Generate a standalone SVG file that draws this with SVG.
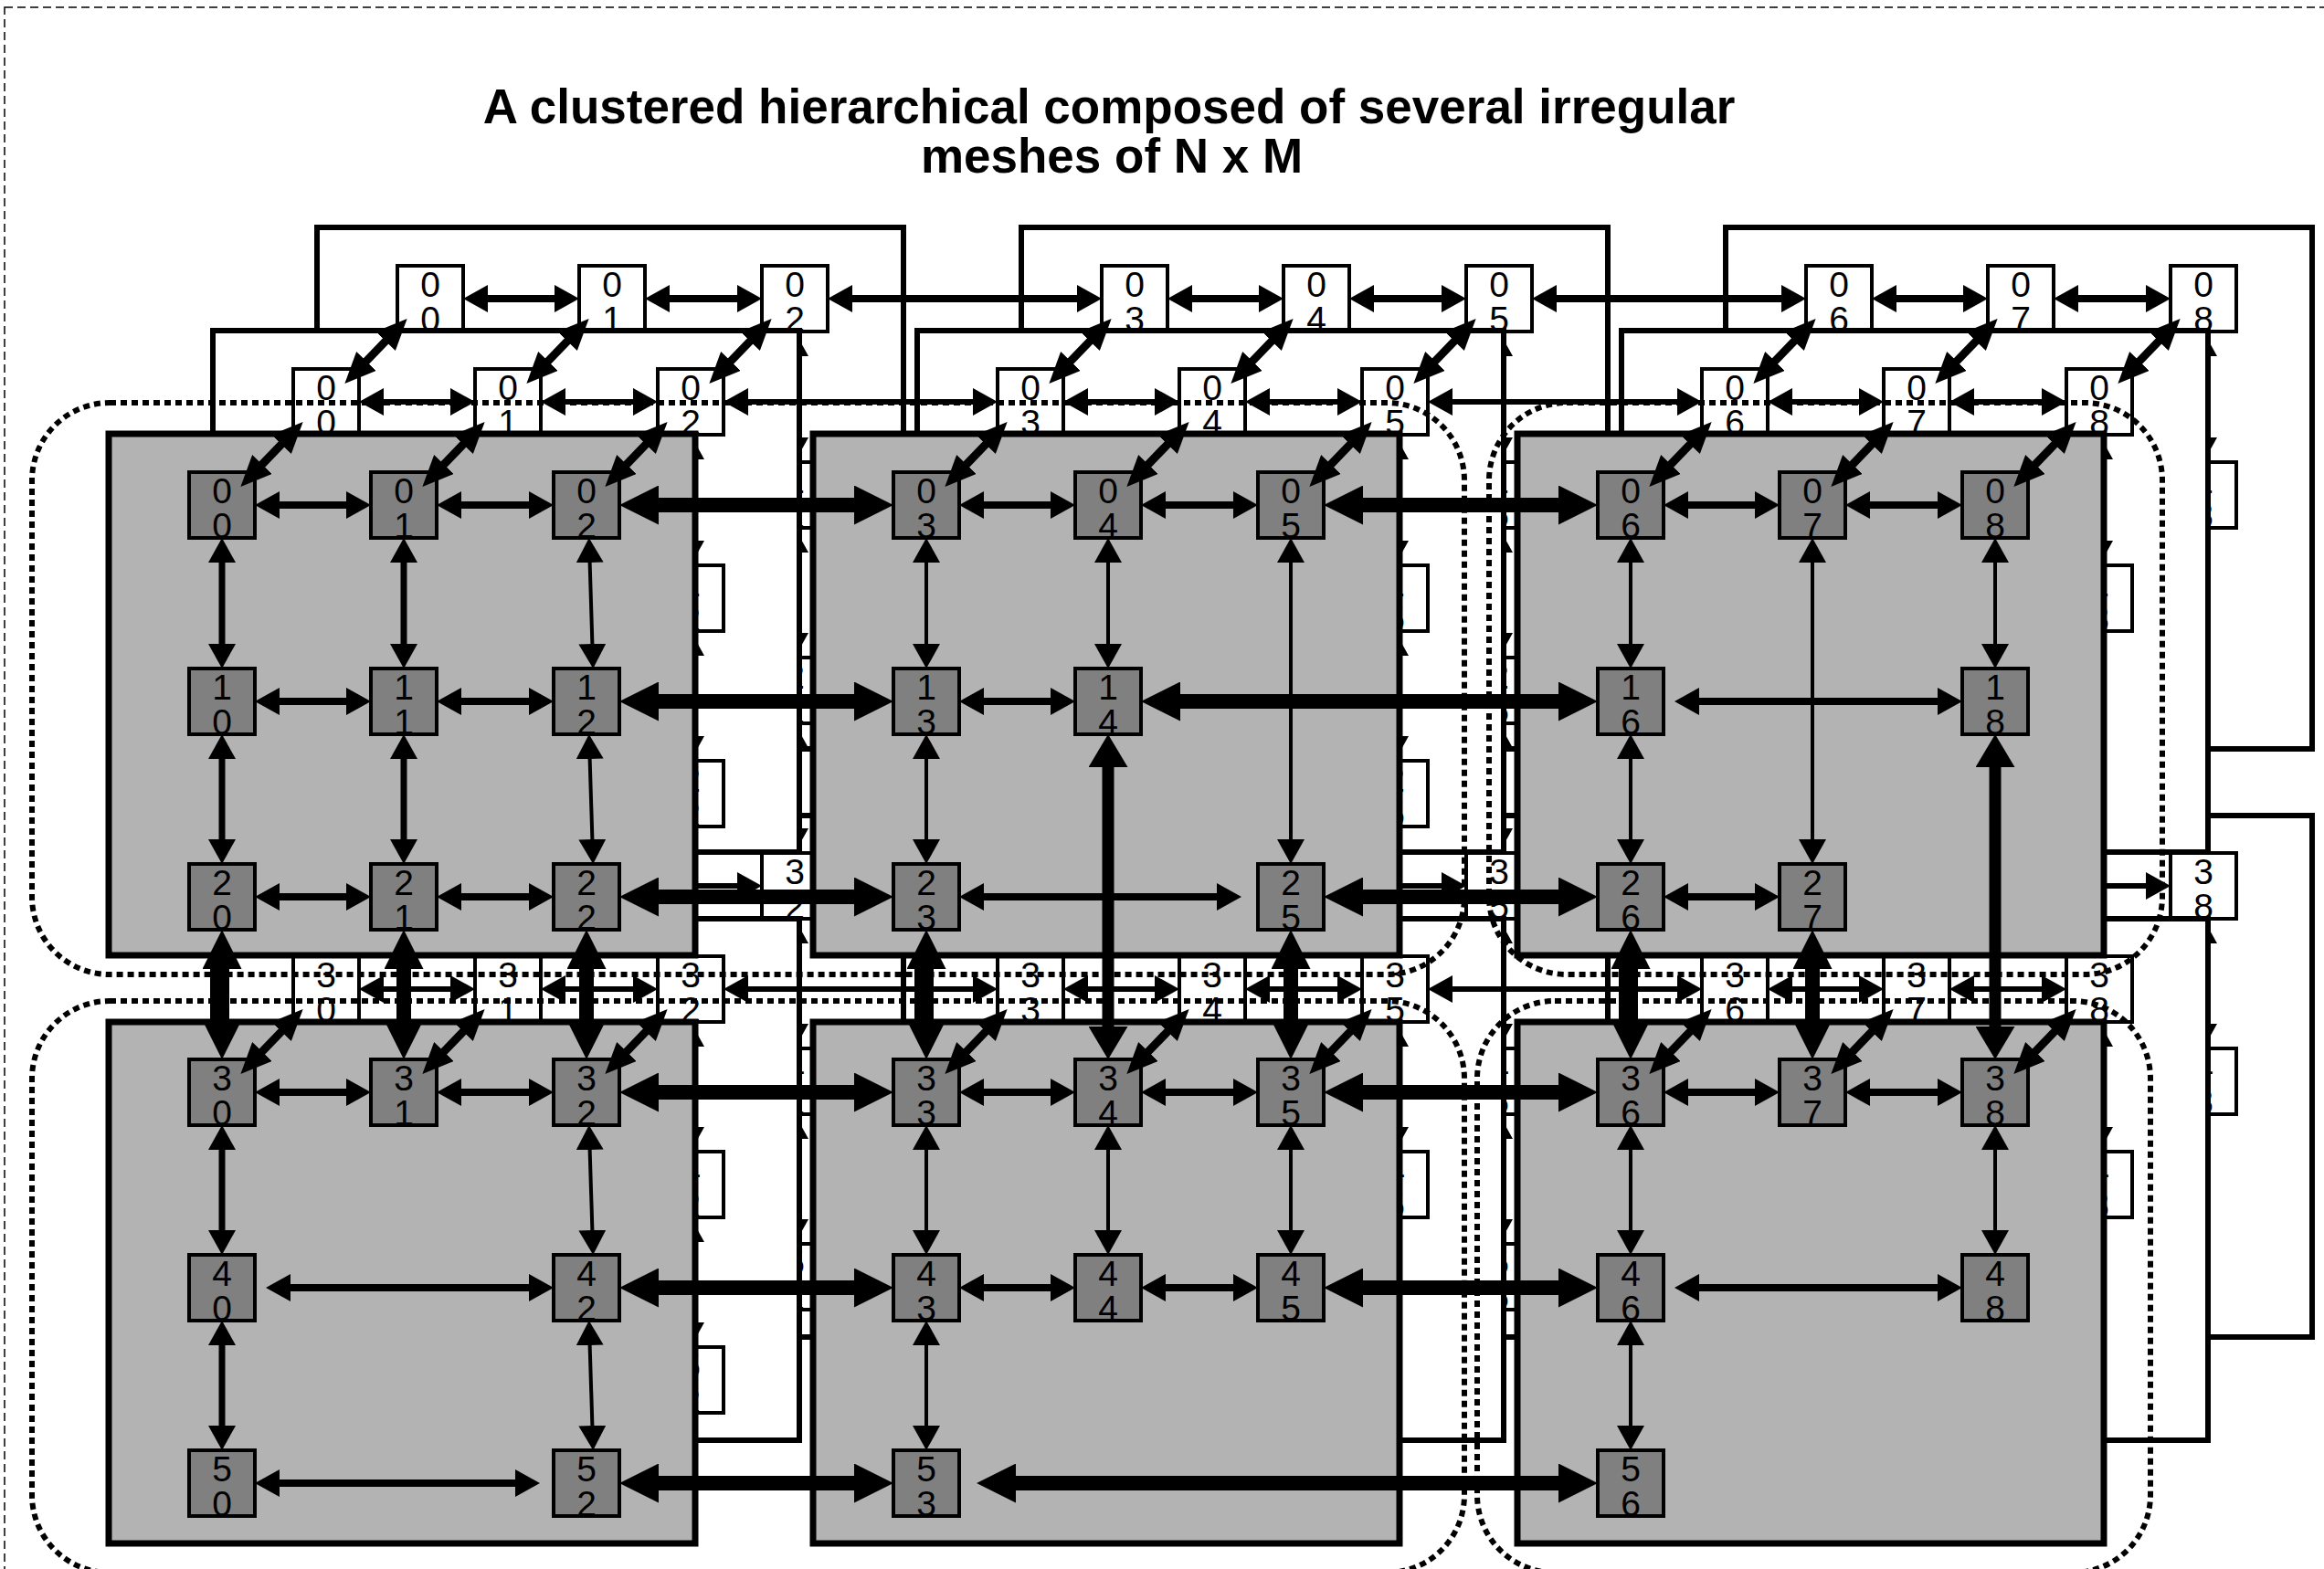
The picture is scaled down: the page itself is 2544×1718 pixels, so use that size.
<svg xmlns="http://www.w3.org/2000/svg" xmlns:xlink="http://www.w3.org/1999/xlink" width="2544" height="1718" viewBox="0 0 2544 1718">
<defs>
<style>
.title{font-family:"Liberation Sans",Arial,sans-serif;font-weight:bold;font-size:53px;text-anchor:middle;fill:#000}
.t{font-family:"Liberation Sans",Arial,sans-serif;font-size:39px;text-anchor:middle;fill:#000}
.fb{fill:#b3b3b3;stroke:#000;stroke-width:7}
.wb{fill:#fff;stroke:#000;stroke-width:6}
.fn{fill:#808080;stroke:#000;stroke-width:4}
.wn{fill:#fff;stroke:#000;stroke-width:4}
.dot{fill:none;stroke:#000;stroke-width:6;stroke-dasharray:7 5}
.h{stroke:#000;stroke-width:8;marker-start:url(#a1);marker-end:url(#a1)}
.hm{stroke:#000;stroke-width:6;marker-start:url(#a1);marker-end:url(#a1)}
.v{stroke:#000;stroke-width:4;marker-start:url(#a1);marker-end:url(#a1)}
.vt{stroke:#000;stroke-width:7;marker-start:url(#a1);marker-end:url(#a1)}
.H{stroke:#000;stroke-width:16;marker-start:url(#a2);marker-end:url(#a2)}
.VL{stroke:#000;stroke-width:13;marker-start:url(#a4);marker-end:url(#a4)}
.dg{stroke:#000;stroke-width:9;marker-start:url(#a3);marker-end:url(#a3)}
</style>
<marker id="a1" markerUnits="userSpaceOnUse" markerWidth="27" markerHeight="30" viewBox="0 0 27 30" refX="19" refY="15" orient="auto-start-reverse"><path d="M0,0L27,15L0,30z" fill="#000"/></marker>
<marker id="a2" markerUnits="userSpaceOnUse" markerWidth="43" markerHeight="43" viewBox="0 0 43 43" refX="27" refY="21.5" orient="auto-start-reverse"><path d="M0,0L43,21.5L0,43z" fill="#000"/></marker>
<marker id="a3" markerUnits="userSpaceOnUse" markerWidth="34" markerHeight="30" viewBox="0 0 34 30" refX="23" refY="15" orient="auto-start-reverse"><path d="M0,0L34,15L0,30z" fill="#000"/></marker>
<marker id="a4" markerUnits="userSpaceOnUse" markerWidth="36" markerHeight="43" viewBox="0 0 36 43" refX="22" refY="21.5" orient="auto-start-reverse"><path d="M0,0L36,21.5L0,43z" fill="#000"/></marker>
<line id="dg" class="dg" x1="64" y1="8" x2="117" y2="-47"/>
</defs>
<rect x="0" y="0" width="2544" height="1718" fill="#fff"/>
<rect x="5" y="8" width="2600" height="1800" fill="none" stroke="#000" stroke-width="1.5" stroke-dasharray="9 5"/>
<g id="title">
<text class="title" x="1214" y="135">A clustered hierarchical composed of several irregular</text>
<text class="title" x="1217" y="189">meshes of N x M</text>
</g>

<!-- BACK PLANE -->
<g id="back-clusters">
<rect class="wb" x="347" y="249" width="642" height="571"/>
<rect class="wb" x="1118" y="249" width="642" height="571"/>
<rect class="wb" x="1889" y="249" width="642" height="571"/>
<rect class="wb" x="347" y="893" width="642" height="571"/>
<rect class="wb" x="1118" y="893" width="642" height="571"/>
<rect class="wb" x="1889" y="893" width="642" height="571"/>
</g>
<g id="back-connectors">
<line class="h" x1="515" y1="327" x2="626" y2="327"/>
<line class="h" x1="714" y1="327" x2="826" y2="327"/>
<line class="h" x1="914" y1="327" x2="1198" y2="327"/>
<line class="h" x1="1286" y1="327" x2="1397" y2="327"/>
<line class="h" x1="1485" y1="327" x2="1597" y2="327"/>
<line class="h" x1="1685" y1="327" x2="1969" y2="327"/>
<line class="h" x1="2057" y1="327" x2="2168" y2="327"/>
<line class="h" x1="2256" y1="327" x2="2368" y2="327"/>
<line class="hm" x1="515" y1="970" x2="626" y2="970"/>
<line class="hm" x1="714" y1="970" x2="826" y2="970"/>
<line class="hm" x1="914" y1="970" x2="1198" y2="970"/>
<line class="hm" x1="1286" y1="970" x2="1397" y2="970"/>
<line class="hm" x1="1485" y1="970" x2="1597" y2="970"/>
<line class="hm" x1="1685" y1="970" x2="1969" y2="970"/>
<line class="hm" x1="2057" y1="970" x2="2168" y2="970"/>
<line class="hm" x1="2256" y1="970" x2="2368" y2="970"/>
<line class="v" x1="870" y1="371" x2="870" y2="498"/>
<line class="v" x1="870" y1="586" x2="870" y2="712"/>
<line class="v" x1="870" y1="800" x2="870" y2="926"/>
<line class="v" x1="870" y1="1014" x2="870" y2="1140"/>
<line class="v" x1="870" y1="1228" x2="870" y2="1354"/>
<line class="v" x1="1641" y1="371" x2="1641" y2="498"/>
<line class="v" x1="1641" y1="586" x2="1641" y2="712"/>
<line class="v" x1="1641" y1="800" x2="1641" y2="926"/>
<line class="v" x1="1641" y1="1014" x2="1641" y2="1140"/>
<line class="v" x1="1641" y1="1228" x2="1641" y2="1354"/>
<line class="v" x1="2412" y1="371" x2="2412" y2="498"/>
<line class="v" x1="2412" y1="1014" x2="2412" y2="1140"/>
</g>
<g id="back-nodes">
<g id="b00"><rect class="wn" x="435" y="291" width="72" height="72"/><text class="t" x="471" y="325">0<tspan x="471" y="363">0</tspan></text></g>
<g id="b01"><rect class="wn" x="634" y="291" width="72" height="72"/><text class="t" x="670" y="325">0<tspan x="670" y="363">1</tspan></text></g>
<g id="b02"><rect class="wn" x="834" y="291" width="72" height="72"/><text class="t" x="870" y="325">0<tspan x="870" y="363">2</tspan></text></g>
<g id="b03"><rect class="wn" x="1206" y="291" width="72" height="72"/><text class="t" x="1242" y="325">0<tspan x="1242" y="363">3</tspan></text></g>
<g id="b04"><rect class="wn" x="1405" y="291" width="72" height="72"/><text class="t" x="1441" y="325">0<tspan x="1441" y="363">4</tspan></text></g>
<g id="b05"><rect class="wn" x="1605" y="291" width="72" height="72"/><text class="t" x="1641" y="325">0<tspan x="1641" y="363">5</tspan></text></g>
<g id="b06"><rect class="wn" x="1977" y="291" width="72" height="72"/><text class="t" x="2013" y="325">0<tspan x="2013" y="363">6</tspan></text></g>
<g id="b07"><rect class="wn" x="2176" y="291" width="72" height="72"/><text class="t" x="2212" y="325">0<tspan x="2212" y="363">7</tspan></text></g>
<g id="b08"><rect class="wn" x="2376" y="291" width="72" height="72"/><text class="t" x="2412" y="325">0<tspan x="2412" y="363">8</tspan></text></g>
<g id="b12"><rect class="wn" x="834" y="506" width="72" height="72"/><text class="t" x="870" y="540">1<tspan x="870" y="578">2</tspan></text></g>
<g id="b22"><rect class="wn" x="834" y="720" width="72" height="72"/><text class="t" x="870" y="754">2<tspan x="870" y="792">2</tspan></text></g>
<g id="b42"><rect class="wn" x="834" y="1148" width="72" height="72"/><text class="t" x="870" y="1182">4<tspan x="870" y="1220">2</tspan></text></g>
<g id="b52"><rect class="wn" x="834" y="1362" width="72" height="72"/><text class="t" x="870" y="1396">5<tspan x="870" y="1434">2</tspan></text></g>
<g id="b15"><rect class="wn" x="1605" y="506" width="72" height="72"/><text class="t" x="1641" y="540">1<tspan x="1641" y="578">5</tspan></text></g>
<g id="b25"><rect class="wn" x="1605" y="720" width="72" height="72"/><text class="t" x="1641" y="754">2<tspan x="1641" y="792">5</tspan></text></g>
<g id="b45"><rect class="wn" x="1605" y="1148" width="72" height="72"/><text class="t" x="1641" y="1182">4<tspan x="1641" y="1220">5</tspan></text></g>
<g id="b55"><rect class="wn" x="1605" y="1362" width="72" height="72"/><text class="t" x="1641" y="1396">5<tspan x="1641" y="1434">5</tspan></text></g>
<g id="b18"><rect class="wn" x="2376" y="506" width="72" height="72"/><text class="t" x="2412" y="540">1<tspan x="2412" y="578">8</tspan></text></g>
<g id="b48"><rect class="wn" x="2376" y="1148" width="72" height="72"/><text class="t" x="2412" y="1182">4<tspan x="2412" y="1220">8</tspan></text></g>
<g id="b30"><rect class="wn" x="435" y="934" width="72" height="72"/><text class="t" x="471" y="968">3<tspan x="471" y="1006">0</tspan></text></g>
<g id="b31"><rect class="wn" x="634" y="934" width="72" height="72"/><text class="t" x="670" y="968">3<tspan x="670" y="1006">1</tspan></text></g>
<g id="b32"><rect class="wn" x="834" y="934" width="72" height="72"/><text class="t" x="870" y="968">3<tspan x="870" y="1006">2</tspan></text></g>
<g id="b33"><rect class="wn" x="1206" y="934" width="72" height="72"/><text class="t" x="1242" y="968">3<tspan x="1242" y="1006">3</tspan></text></g>
<g id="b34"><rect class="wn" x="1405" y="934" width="72" height="72"/><text class="t" x="1441" y="968">3<tspan x="1441" y="1006">4</tspan></text></g>
<g id="b35"><rect class="wn" x="1605" y="934" width="72" height="72"/><text class="t" x="1641" y="968">3<tspan x="1641" y="1006">5</tspan></text></g>
<g id="b36"><rect class="wn" x="1977" y="934" width="72" height="72"/><text class="t" x="2013" y="968">3<tspan x="2013" y="1006">6</tspan></text></g>
<g id="b37"><rect class="wn" x="2176" y="934" width="72" height="72"/><text class="t" x="2212" y="968">3<tspan x="2212" y="1006">7</tspan></text></g>
<g id="b38"><rect class="wn" x="2376" y="934" width="72" height="72"/><text class="t" x="2412" y="968">3<tspan x="2412" y="1006">8</tspan></text></g>
</g>

<!-- MIDDLE PLANE -->
<g id="middle-clusters">
<rect class="wb" x="233" y="362" width="642" height="571"/>
<rect class="wb" x="1004" y="362" width="642" height="571"/>
<rect class="wb" x="1775" y="362" width="642" height="571"/>
<rect class="wb" x="233" y="1006" width="642" height="571"/>
<rect class="wb" x="1004" y="1006" width="642" height="571"/>
<rect class="wb" x="1775" y="1006" width="642" height="571"/>
</g>
<g id="middle-connectors">
<line class="hm" x1="401" y1="440" x2="512" y2="440"/>
<line class="hm" x1="600" y1="440" x2="712" y2="440"/>
<line class="hm" x1="800" y1="440" x2="1084" y2="440"/>
<line class="hm" x1="1172" y1="440" x2="1283" y2="440"/>
<line class="hm" x1="1371" y1="440" x2="1483" y2="440"/>
<line class="hm" x1="1571" y1="440" x2="1855" y2="440"/>
<line class="hm" x1="1943" y1="440" x2="2054" y2="440"/>
<line class="hm" x1="2142" y1="440" x2="2254" y2="440"/>
<line class="hm" x1="401" y1="1083" x2="512" y2="1083"/>
<line class="hm" x1="600" y1="1083" x2="712" y2="1083"/>
<line class="hm" x1="800" y1="1083" x2="1084" y2="1083"/>
<line class="hm" x1="1172" y1="1083" x2="1283" y2="1083"/>
<line class="hm" x1="1371" y1="1083" x2="1483" y2="1083"/>
<line class="hm" x1="1571" y1="1083" x2="1855" y2="1083"/>
<line class="hm" x1="1943" y1="1083" x2="2054" y2="1083"/>
<line class="hm" x1="2142" y1="1083" x2="2254" y2="1083"/>
<line class="v" x1="756" y1="484" x2="756" y2="611"/>
<line class="v" x1="756" y1="699" x2="756" y2="825"/>
<line class="v" x1="756" y1="1127" x2="756" y2="1253"/>
<line class="v" x1="756" y1="1341" x2="756" y2="1467"/>
<line class="v" x1="1527" y1="484" x2="1527" y2="611"/>
<line class="v" x1="1527" y1="699" x2="1527" y2="825"/>
<line class="v" x1="1527" y1="1127" x2="1527" y2="1253"/>
<line class="v" x1="2298" y1="484" x2="2298" y2="611"/>
<line class="v" x1="2298" y1="1127" x2="2298" y2="1253"/>
</g>
<g id="middle-nodes">
<g id="m00"><rect class="wn" x="321" y="404" width="72" height="72"/><text class="t" x="357" y="438">0<tspan x="357" y="476">0</tspan></text></g>
<g id="m01"><rect class="wn" x="520" y="404" width="72" height="72"/><text class="t" x="556" y="438">0<tspan x="556" y="476">1</tspan></text></g>
<g id="m02"><rect class="wn" x="720" y="404" width="72" height="72"/><text class="t" x="756" y="438">0<tspan x="756" y="476">2</tspan></text></g>
<g id="m03"><rect class="wn" x="1092" y="404" width="72" height="72"/><text class="t" x="1128" y="438">0<tspan x="1128" y="476">3</tspan></text></g>
<g id="m04"><rect class="wn" x="1291" y="404" width="72" height="72"/><text class="t" x="1327" y="438">0<tspan x="1327" y="476">4</tspan></text></g>
<g id="m05"><rect class="wn" x="1491" y="404" width="72" height="72"/><text class="t" x="1527" y="438">0<tspan x="1527" y="476">5</tspan></text></g>
<g id="m06"><rect class="wn" x="1863" y="404" width="72" height="72"/><text class="t" x="1899" y="438">0<tspan x="1899" y="476">6</tspan></text></g>
<g id="m07"><rect class="wn" x="2062" y="404" width="72" height="72"/><text class="t" x="2098" y="438">0<tspan x="2098" y="476">7</tspan></text></g>
<g id="m08"><rect class="wn" x="2262" y="404" width="72" height="72"/><text class="t" x="2298" y="438">0<tspan x="2298" y="476">8</tspan></text></g>
<g id="m12"><rect class="wn" x="720" y="619" width="72" height="72"/><text class="t" x="756" y="653">1<tspan x="756" y="691">2</tspan></text></g>
<g id="m22"><rect class="wn" x="720" y="833" width="72" height="72"/><text class="t" x="756" y="867">2<tspan x="756" y="905">2</tspan></text></g>
<g id="m42"><rect class="wn" x="720" y="1261" width="72" height="72"/><text class="t" x="756" y="1295">4<tspan x="756" y="1333">2</tspan></text></g>
<g id="m52"><rect class="wn" x="720" y="1475" width="72" height="72"/><text class="t" x="756" y="1509">5<tspan x="756" y="1547">2</tspan></text></g>
<g id="m15"><rect class="wn" x="1491" y="619" width="72" height="72"/><text class="t" x="1527" y="653">1<tspan x="1527" y="691">5</tspan></text></g>
<g id="m25"><rect class="wn" x="1491" y="833" width="72" height="72"/><text class="t" x="1527" y="867">2<tspan x="1527" y="905">5</tspan></text></g>
<g id="m45"><rect class="wn" x="1491" y="1261" width="72" height="72"/><text class="t" x="1527" y="1295">4<tspan x="1527" y="1333">5</tspan></text></g>
<g id="m18"><rect class="wn" x="2262" y="619" width="72" height="72"/><text class="t" x="2298" y="653">1<tspan x="2298" y="691">8</tspan></text></g>
<g id="m48"><rect class="wn" x="2262" y="1261" width="72" height="72"/><text class="t" x="2298" y="1295">4<tspan x="2298" y="1333">8</tspan></text></g>
<g id="m30"><rect class="wn" x="321" y="1047" width="72" height="72"/><text class="t" x="357" y="1081">3<tspan x="357" y="1119">0</tspan></text></g>
<g id="m31"><rect class="wn" x="520" y="1047" width="72" height="72"/><text class="t" x="556" y="1081">3<tspan x="556" y="1119">1</tspan></text></g>
<g id="m32"><rect class="wn" x="720" y="1047" width="72" height="72"/><text class="t" x="756" y="1081">3<tspan x="756" y="1119">2</tspan></text></g>
<g id="m33"><rect class="wn" x="1092" y="1047" width="72" height="72"/><text class="t" x="1128" y="1081">3<tspan x="1128" y="1119">3</tspan></text></g>
<g id="m34"><rect class="wn" x="1291" y="1047" width="72" height="72"/><text class="t" x="1327" y="1081">3<tspan x="1327" y="1119">4</tspan></text></g>
<g id="m35"><rect class="wn" x="1491" y="1047" width="72" height="72"/><text class="t" x="1527" y="1081">3<tspan x="1527" y="1119">5</tspan></text></g>
<g id="m36"><rect class="wn" x="1863" y="1047" width="72" height="72"/><text class="t" x="1899" y="1081">3<tspan x="1899" y="1119">6</tspan></text></g>
<g id="m37"><rect class="wn" x="2062" y="1047" width="72" height="72"/><text class="t" x="2098" y="1081">3<tspan x="2098" y="1119">7</tspan></text></g>
<g id="m38"><rect class="wn" x="2262" y="1047" width="72" height="72"/><text class="t" x="2298" y="1081">3<tspan x="2298" y="1119">8</tspan></text></g>
</g>
<g id="middle-to-back-links">
<use xlink:href="#dg" href="#dg" x="321" y="404"/>
<use xlink:href="#dg" href="#dg" x="520" y="404"/>
<use xlink:href="#dg" href="#dg" x="720" y="404"/>
<use xlink:href="#dg" href="#dg" x="1092" y="404"/>
<use xlink:href="#dg" href="#dg" x="1291" y="404"/>
<use xlink:href="#dg" href="#dg" x="1491" y="404"/>
<use xlink:href="#dg" href="#dg" x="1863" y="404"/>
<use xlink:href="#dg" href="#dg" x="2062" y="404"/>
<use xlink:href="#dg" href="#dg" x="2262" y="404"/>
</g>

<!-- DOTTED CLUSTER GROUPS -->
<g id="dotted-groups">
<rect class="dot" x="35" y="441" width="1568" height="626" rx="85" ry="85"/>
<rect class="dot" x="1630" y="441" width="737" height="626" rx="85" ry="85"/>
<rect class="dot" x="35" y="1096" width="1568" height="626" rx="85" ry="85"/>
<rect class="dot" x="1617" y="1096" width="737" height="626" rx="85" ry="85"/>
</g>

<!-- FRONT PLANE -->
<g id="front-clusters">
<rect class="fb" x="119" y="475" width="642" height="571"/>
<rect class="fb" x="890" y="475" width="642" height="571"/>
<rect class="fb" x="1661" y="475" width="642" height="571"/>
<rect class="fb" x="119" y="1119" width="642" height="571"/>
<rect class="fb" x="890" y="1119" width="642" height="571"/>
<rect class="fb" x="1661" y="1119" width="642" height="571"/>
</g>
<g id="front-connectors">
<line class="h" x1="287" y1="553" x2="398" y2="553"/>
<line class="h" x1="486" y1="553" x2="598" y2="553"/>
<line class="h" x1="1058" y1="553" x2="1169" y2="553"/>
<line class="h" x1="1257" y1="553" x2="1369" y2="553"/>
<line class="h" x1="1829" y1="553" x2="1940" y2="553"/>
<line class="h" x1="2028" y1="553" x2="2140" y2="553"/>
<line class="h" x1="287" y1="768" x2="398" y2="768"/>
<line class="h" x1="486" y1="768" x2="598" y2="768"/>
<line class="h" x1="1058" y1="768" x2="1169" y2="768"/>
<line class="h" x1="1841" y1="768" x2="2140" y2="768"/>
<line class="h" x1="287" y1="982" x2="398" y2="982"/>
<line class="h" x1="486" y1="982" x2="598" y2="982"/>
<line class="h" x1="1058" y1="982" x2="1351" y2="982"/>
<line class="h" x1="1829" y1="982" x2="1940" y2="982"/>
<line class="h" x1="287" y1="1196" x2="398" y2="1196"/>
<line class="h" x1="486" y1="1196" x2="598" y2="1196"/>
<line class="h" x1="1058" y1="1196" x2="1169" y2="1196"/>
<line class="h" x1="1257" y1="1196" x2="1369" y2="1196"/>
<line class="h" x1="1829" y1="1196" x2="1940" y2="1196"/>
<line class="h" x1="2028" y1="1196" x2="2140" y2="1196"/>
<line class="h" x1="299" y1="1410" x2="598" y2="1410"/>
<line class="h" x1="1058" y1="1410" x2="1169" y2="1410"/>
<line class="h" x1="1257" y1="1410" x2="1369" y2="1410"/>
<line class="h" x1="1841" y1="1410" x2="2140" y2="1410"/>
<line class="h" x1="287" y1="1624" x2="583" y2="1624"/>
<line class="H" x1="694" y1="553" x2="962" y2="553"/>
<line class="H" x1="694" y1="768" x2="962" y2="768"/>
<line class="H" x1="694" y1="982" x2="962" y2="982"/>
<line class="H" x1="694" y1="1196" x2="962" y2="1196"/>
<line class="H" x1="694" y1="1410" x2="962" y2="1410"/>
<line class="H" x1="694" y1="1624" x2="962" y2="1624"/>
<line class="H" x1="1465" y1="553" x2="1733" y2="553"/>
<line class="H" x1="1265" y1="768" x2="1733" y2="768"/>
<line class="H" x1="1465" y1="982" x2="1733" y2="982"/>
<line class="H" x1="1465" y1="1196" x2="1733" y2="1196"/>
<line class="H" x1="1465" y1="1410" x2="1733" y2="1410"/>
<line class="H" x1="1085" y1="1624" x2="1733" y2="1624"/>
<line class="vt" x1="243" y1="597" x2="243" y2="724"/>
<line class="vt" x1="243" y1="812" x2="243" y2="938"/>
<line class="vt" x1="243" y1="1240" x2="243" y2="1366"/>
<line class="vt" x1="243" y1="1454" x2="243" y2="1580"/>
<line class="vt" x1="442" y1="597" x2="442" y2="724"/>
<line class="vt" x1="442" y1="812" x2="442" y2="938"/>
<line class="v" x1="645" y1="597" x2="649" y2="724"/>
<line class="v" x1="645" y1="812" x2="649" y2="938"/>
<line class="v" x1="645" y1="1240" x2="649" y2="1366"/>
<line class="v" x1="645" y1="1454" x2="649" y2="1580"/>
<line class="v" x1="1014" y1="597" x2="1014" y2="724"/>
<line class="v" x1="1014" y1="812" x2="1014" y2="938"/>
<line class="v" x1="1014" y1="1240" x2="1014" y2="1366"/>
<line class="v" x1="1014" y1="1454" x2="1014" y2="1580"/>
<line class="v" x1="1213" y1="597" x2="1213" y2="724"/>
<line class="v" x1="1213" y1="1240" x2="1213" y2="1366"/>
<line class="v" x1="1413" y1="597" x2="1413" y2="938"/>
<line class="v" x1="1413" y1="1240" x2="1413" y2="1366"/>
<line class="v" x1="1785" y1="597" x2="1785" y2="724"/>
<line class="v" x1="1785" y1="812" x2="1785" y2="938"/>
<line class="v" x1="1785" y1="1240" x2="1785" y2="1366"/>
<line class="v" x1="1785" y1="1454" x2="1785" y2="1580"/>
<line class="v" x1="1984" y1="597" x2="1984" y2="938"/>
<line class="v" x1="2184" y1="597" x2="2184" y2="724"/>
<line class="v" x1="2184" y1="1240" x2="2184" y2="1366"/>
<line class="H" x1="243" y1="1034" x2="243" y2="1144"/>
<line class="H" x1="442" y1="1034" x2="442" y2="1144"/>
<line class="H" x1="642" y1="1034" x2="642" y2="1144"/>
<line class="H" x1="1014" y1="1034" x2="1014" y2="1144"/>
<line class="H" x1="1413" y1="1034" x2="1413" y2="1144"/>
<line class="H" x1="1785" y1="1034" x2="1785" y2="1144"/>
<line class="H" x1="1984" y1="1034" x2="1984" y2="1144"/>
<line class="VL" x1="1213" y1="818" x2="1213" y2="1146"/>
<line class="VL" x1="2184" y1="818" x2="2184" y2="1146"/>
</g>
<g id="front-nodes">
<g id="n00"><rect class="fn" x="207" y="517" width="72" height="72"/><text class="t" x="243" y="551">0<tspan x="243" y="589">0</tspan></text></g>
<g id="n01"><rect class="fn" x="406" y="517" width="72" height="72"/><text class="t" x="442" y="551">0<tspan x="442" y="589">1</tspan></text></g>
<g id="n02"><rect class="fn" x="606" y="517" width="72" height="72"/><text class="t" x="642" y="551">0<tspan x="642" y="589">2</tspan></text></g>
<g id="n03"><rect class="fn" x="978" y="517" width="72" height="72"/><text class="t" x="1014" y="551">0<tspan x="1014" y="589">3</tspan></text></g>
<g id="n04"><rect class="fn" x="1177" y="517" width="72" height="72"/><text class="t" x="1213" y="551">0<tspan x="1213" y="589">4</tspan></text></g>
<g id="n05"><rect class="fn" x="1377" y="517" width="72" height="72"/><text class="t" x="1413" y="551">0<tspan x="1413" y="589">5</tspan></text></g>
<g id="n06"><rect class="fn" x="1749" y="517" width="72" height="72"/><text class="t" x="1785" y="551">0<tspan x="1785" y="589">6</tspan></text></g>
<g id="n07"><rect class="fn" x="1948" y="517" width="72" height="72"/><text class="t" x="1984" y="551">0<tspan x="1984" y="589">7</tspan></text></g>
<g id="n08"><rect class="fn" x="2148" y="517" width="72" height="72"/><text class="t" x="2184" y="551">0<tspan x="2184" y="589">8</tspan></text></g>
<g id="n10"><rect class="fn" x="207" y="732" width="72" height="72"/><text class="t" x="243" y="766">1<tspan x="243" y="804">0</tspan></text></g>
<g id="n11"><rect class="fn" x="406" y="732" width="72" height="72"/><text class="t" x="442" y="766">1<tspan x="442" y="804">1</tspan></text></g>
<g id="n12"><rect class="fn" x="606" y="732" width="72" height="72"/><text class="t" x="642" y="766">1<tspan x="642" y="804">2</tspan></text></g>
<g id="n13"><rect class="fn" x="978" y="732" width="72" height="72"/><text class="t" x="1014" y="766">1<tspan x="1014" y="804">3</tspan></text></g>
<g id="n14"><rect class="fn" x="1177" y="732" width="72" height="72"/><text class="t" x="1213" y="766">1<tspan x="1213" y="804">4</tspan></text></g>
<g id="n16"><rect class="fn" x="1749" y="732" width="72" height="72"/><text class="t" x="1785" y="766">1<tspan x="1785" y="804">6</tspan></text></g>
<g id="n18"><rect class="fn" x="2148" y="732" width="72" height="72"/><text class="t" x="2184" y="766">1<tspan x="2184" y="804">8</tspan></text></g>
<g id="n20"><rect class="fn" x="207" y="946" width="72" height="72"/><text class="t" x="243" y="980">2<tspan x="243" y="1018">0</tspan></text></g>
<g id="n21"><rect class="fn" x="406" y="946" width="72" height="72"/><text class="t" x="442" y="980">2<tspan x="442" y="1018">1</tspan></text></g>
<g id="n22"><rect class="fn" x="606" y="946" width="72" height="72"/><text class="t" x="642" y="980">2<tspan x="642" y="1018">2</tspan></text></g>
<g id="n23"><rect class="fn" x="978" y="946" width="72" height="72"/><text class="t" x="1014" y="980">2<tspan x="1014" y="1018">3</tspan></text></g>
<g id="n25"><rect class="fn" x="1377" y="946" width="72" height="72"/><text class="t" x="1413" y="980">2<tspan x="1413" y="1018">5</tspan></text></g>
<g id="n26"><rect class="fn" x="1749" y="946" width="72" height="72"/><text class="t" x="1785" y="980">2<tspan x="1785" y="1018">6</tspan></text></g>
<g id="n27"><rect class="fn" x="1948" y="946" width="72" height="72"/><text class="t" x="1984" y="980">2<tspan x="1984" y="1018">7</tspan></text></g>
<g id="n30"><rect class="fn" x="207" y="1160" width="72" height="72"/><text class="t" x="243" y="1194">3<tspan x="243" y="1232">0</tspan></text></g>
<g id="n31"><rect class="fn" x="406" y="1160" width="72" height="72"/><text class="t" x="442" y="1194">3<tspan x="442" y="1232">1</tspan></text></g>
<g id="n32"><rect class="fn" x="606" y="1160" width="72" height="72"/><text class="t" x="642" y="1194">3<tspan x="642" y="1232">2</tspan></text></g>
<g id="n33"><rect class="fn" x="978" y="1160" width="72" height="72"/><text class="t" x="1014" y="1194">3<tspan x="1014" y="1232">3</tspan></text></g>
<g id="n34"><rect class="fn" x="1177" y="1160" width="72" height="72"/><text class="t" x="1213" y="1194">3<tspan x="1213" y="1232">4</tspan></text></g>
<g id="n35"><rect class="fn" x="1377" y="1160" width="72" height="72"/><text class="t" x="1413" y="1194">3<tspan x="1413" y="1232">5</tspan></text></g>
<g id="n36"><rect class="fn" x="1749" y="1160" width="72" height="72"/><text class="t" x="1785" y="1194">3<tspan x="1785" y="1232">6</tspan></text></g>
<g id="n37"><rect class="fn" x="1948" y="1160" width="72" height="72"/><text class="t" x="1984" y="1194">3<tspan x="1984" y="1232">7</tspan></text></g>
<g id="n38"><rect class="fn" x="2148" y="1160" width="72" height="72"/><text class="t" x="2184" y="1194">3<tspan x="2184" y="1232">8</tspan></text></g>
<g id="n40"><rect class="fn" x="207" y="1374" width="72" height="72"/><text class="t" x="243" y="1408">4<tspan x="243" y="1446">0</tspan></text></g>
<g id="n42"><rect class="fn" x="606" y="1374" width="72" height="72"/><text class="t" x="642" y="1408">4<tspan x="642" y="1446">2</tspan></text></g>
<g id="n43"><rect class="fn" x="978" y="1374" width="72" height="72"/><text class="t" x="1014" y="1408">4<tspan x="1014" y="1446">3</tspan></text></g>
<g id="n44"><rect class="fn" x="1177" y="1374" width="72" height="72"/><text class="t" x="1213" y="1408">4<tspan x="1213" y="1446">4</tspan></text></g>
<g id="n45"><rect class="fn" x="1377" y="1374" width="72" height="72"/><text class="t" x="1413" y="1408">4<tspan x="1413" y="1446">5</tspan></text></g>
<g id="n46"><rect class="fn" x="1749" y="1374" width="72" height="72"/><text class="t" x="1785" y="1408">4<tspan x="1785" y="1446">6</tspan></text></g>
<g id="n48"><rect class="fn" x="2148" y="1374" width="72" height="72"/><text class="t" x="2184" y="1408">4<tspan x="2184" y="1446">8</tspan></text></g>
<g id="n50"><rect class="fn" x="207" y="1588" width="72" height="72"/><text class="t" x="243" y="1622">5<tspan x="243" y="1660">0</tspan></text></g>
<g id="n52"><rect class="fn" x="606" y="1588" width="72" height="72"/><text class="t" x="642" y="1622">5<tspan x="642" y="1660">2</tspan></text></g>
<g id="n53"><rect class="fn" x="978" y="1588" width="72" height="72"/><text class="t" x="1014" y="1622">5<tspan x="1014" y="1660">3</tspan></text></g>
<g id="n56"><rect class="fn" x="1749" y="1588" width="72" height="72"/><text class="t" x="1785" y="1622">5<tspan x="1785" y="1660">6</tspan></text></g>
</g>
<g id="front-to-middle-links">
<use xlink:href="#dg" href="#dg" x="207" y="517"/>
<use xlink:href="#dg" href="#dg" x="406" y="517"/>
<use xlink:href="#dg" href="#dg" x="606" y="517"/>
<use xlink:href="#dg" href="#dg" x="978" y="517"/>
<use xlink:href="#dg" href="#dg" x="1177" y="517"/>
<use xlink:href="#dg" href="#dg" x="1377" y="517"/>
<use xlink:href="#dg" href="#dg" x="1749" y="517"/>
<use xlink:href="#dg" href="#dg" x="1948" y="517"/>
<use xlink:href="#dg" href="#dg" x="2148" y="517"/>
<use xlink:href="#dg" href="#dg" x="207" y="1160"/>
<use xlink:href="#dg" href="#dg" x="406" y="1160"/>
<use xlink:href="#dg" href="#dg" x="606" y="1160"/>
<use xlink:href="#dg" href="#dg" x="978" y="1160"/>
<use xlink:href="#dg" href="#dg" x="1177" y="1160"/>
<use xlink:href="#dg" href="#dg" x="1377" y="1160"/>
<use xlink:href="#dg" href="#dg" x="1749" y="1160"/>
<use xlink:href="#dg" href="#dg" x="1948" y="1160"/>
<use xlink:href="#dg" href="#dg" x="2148" y="1160"/>
</g>
</svg>
